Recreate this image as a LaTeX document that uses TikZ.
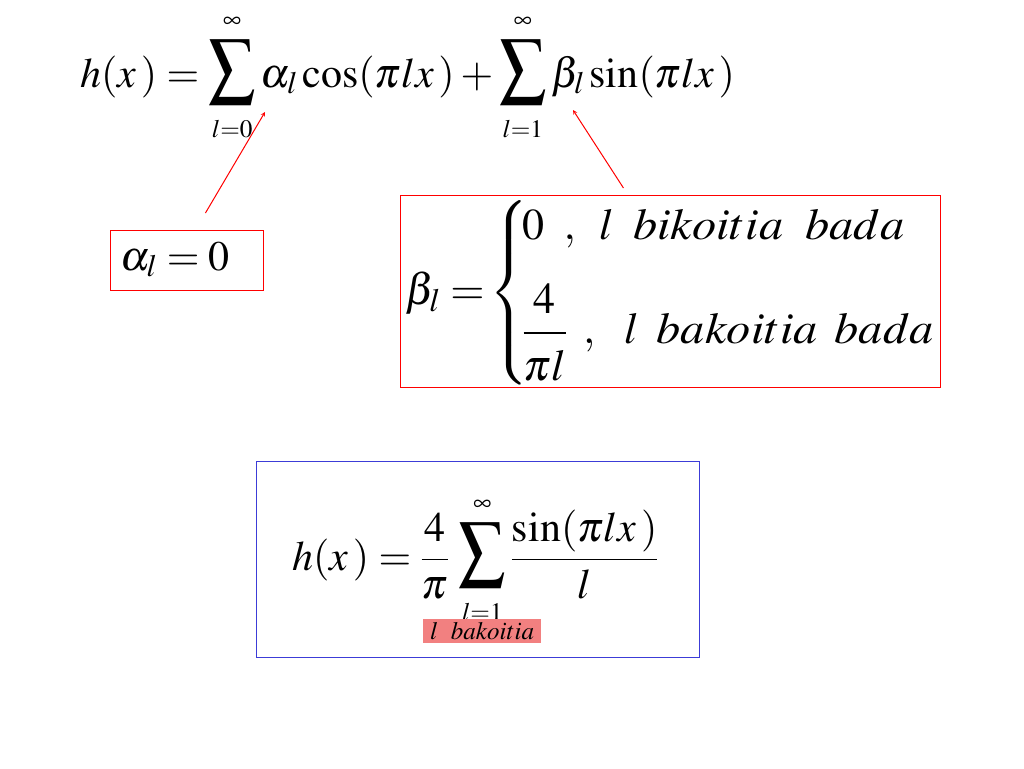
\documentclass[tikz,border=0pt]{standalone}
\usepackage{amsmath}
\usepackage{graphicx}
\usepackage{mathptmx}
\usepackage[no-math]{fontspec}
\setmainfont{Liberation Serif}
\usepackage{tikz}

\definecolor{boxblue}{RGB}{60,60,215}
\definecolor{pinkhl}{RGB}{242,128,128}
\newcommand{\bigsum}{\mathop{\vcenter{\hbox{\scalebox{1.1}[1.25]{$\displaystyle\sum$}}\kern8pt}}}
\newcommand{\sumlim}[2]{\raisebox{#1}[0pt][0pt]{$\scriptscriptstyle #2$}}
\newcommand{\widetext}[1]{\scalebox{1.1}[1]{$#1$}}

\tikzset{
  eq/.style={inner sep=0pt, font=\fontsize{42}{50}\selectfont},
  bigeq/.style={inner sep=0pt, font=\fontsize{44}{50}\selectfont},
  redbox/.style={draw=red, line width=0.9pt, inner sep=0pt},
  bluebox/.style={draw=boxblue, line width=0.9pt, inner sep=0pt},
  pointer/.style={->, >=stealth, red, line width=1pt}
}

\begin{document}
\begin{tikzpicture}[x=1pt, y=-1pt]
    \useasboundingbox (0,0) rectangle (1024,768);
    \node[eq, anchor=base west] (series) at (80,87) {$h(x\,)=\bigsum\limits_{\sumlim{2pt}{l=0}}^{\sumlim{4pt}{\infty}}\alpha_l\cos(\pi lx\,)+\bigsum\limits_{\sumlim{2pt}{l=1}}^{\sumlim{4pt}{\infty}}\beta_l\sin(\pi lx\,)$};
    \coordinate (alphatip) at (265,112);
    \coordinate (betatip) at (573,110);

    \node[redbox, minimum width=153, minimum height=60, anchor=north west] (alphabox) at (110,230) {};
    \node[eq, anchor=base west] (alpha) at (120,270) {$\alpha_l=0$};

    \node[redbox, minimum width=540, minimum height=192, anchor=north west] (betabox) at (400,195) {};
    \node[bigeq, anchor=base west] (beta) at (405,304) {$\beta_l=\!\left\{\begin{array}{@{\hspace{-6pt}}l@{}}
        0\hspace{19pt},\hspace{19pt}l\hspace{19pt}\widetext{bikoitia}\hspace{22pt}\widetext{bada}\\[30pt]
        \dfrac{4}{\rule{0pt}{42pt}\pi l}\hspace{16pt},\hspace{24pt}l\hspace{18pt}\widetext{bakoitia}\hspace{17pt}\widetext{bada}
    \end{array}\right.$};

    \draw[pointer] ([shift={(18.5,-17)}]alphabox.north) -- (alphatip);
    \draw[pointer] ([shift={(-47,-7)}]betabox.north) -- (betatip);

    \node[bluebox, minimum width=443, minimum height=196, anchor=north west] (resultbox) at (256,461) {};
    \node[eq, anchor=base west] (result) at (292,570) {$\displaystyle h(x\,)=\frac{4}{\pi}\,\bigsum\limits_{\sumlim{11pt}{l=1}}^{\sumlim{4pt}{\infty}}\frac{\sin(\pi lx\,)}{l}$};
    \node[fill=pinkhl, inner sep=0pt, minimum width=118, minimum height=24, anchor=north west, font=\fontsize{25}{26}\selectfont] (odd) at (423,619) {$l\ \ bakoitia$};
\end{tikzpicture}
\end{document}
